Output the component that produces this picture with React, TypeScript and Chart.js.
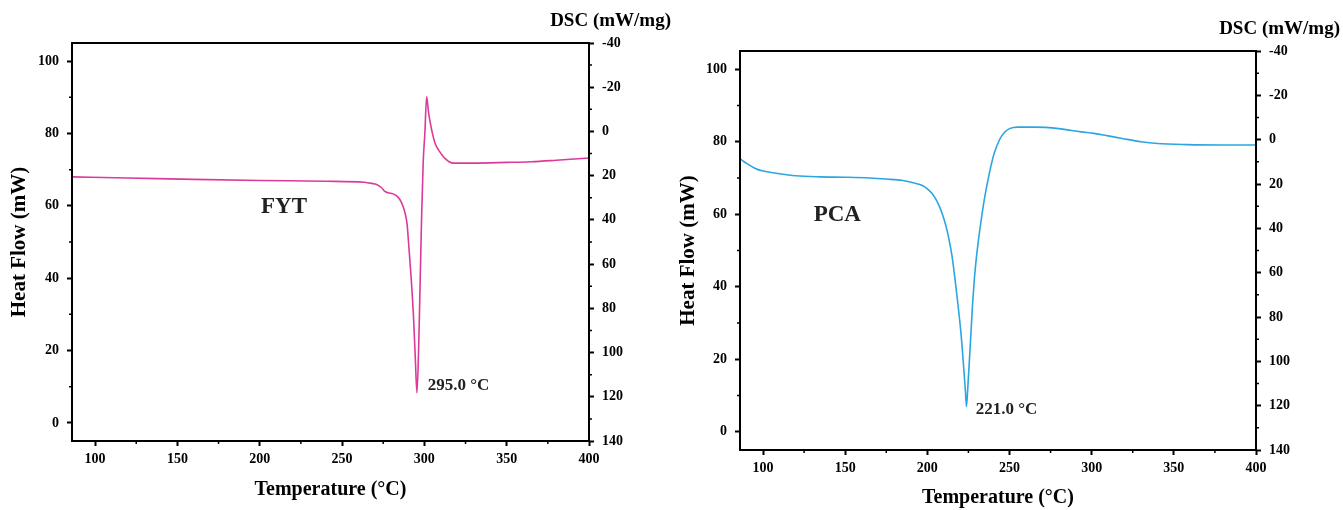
import React, { useEffect, useRef } from 'react';
import { Chart, registerables } from 'chart.js';

Chart.register(...registerables);

const FONT = "'Liberation Serif', 'Times New Roman', serif";

// ---- FYT sample: temperature (°C) and heat flow (mW) ----
const fytTemp = [86, 120, 160, 200, 240, 263.5, 268, 271, 274, 276, 278, 281, 284, 286, 288, 289.5, 290.7, 292, 293.4, 294.5, 295.5, 296.5, 297.5, 298.4, 299.3, 300.3, 301.4, 302.5, 303.5, 305, 306.5, 307.5, 309, 311, 313, 315, 318, 330, 350, 365, 380, 400];
const fytHeat = [68.0, 67.7, 67.3, 67.0, 66.8, 66.5, 66.2, 65.9, 65.0, 64.0, 63.6, 63.3, 62.4, 61.0, 58.5, 55.0, 48.0, 40.0, 29.4, 18.0, 8.3, 20.0, 40.0, 58.0, 72.0, 80.0, 90.1, 86.0, 83.2, 79.8, 77.3, 76.3, 75.2, 73.9, 72.9, 72.2, 71.8, 71.8, 72.0, 72.2, 72.6, 73.2];

// ---- PCA sample ----
const pcaTemp = [86, 90, 95, 100, 108, 120, 135, 150, 165, 175, 185, 192, 197, 200, 202.5, 205, 207, 209, 211, 213, 215, 218.3, 220.5, 222, 223.2, 223.8, 224.6, 225.5, 226.5, 227.5, 228.5, 229.5, 231, 232.5, 234.6, 237.5, 240.7, 244, 247, 250, 255, 265, 280, 293.6, 301.4, 310, 318.5, 330, 340, 358, 380, 400];
const pcaHeat = [75.3, 74.0, 72.7, 71.9, 71.3, 70.6, 70.3, 70.2, 70.0, 69.7, 69.3, 68.6, 67.9, 67.0, 65.9, 64.3, 62.5, 60.2, 57.3, 53.5, 48.5, 36.4, 27.0, 18.5, 11.0, 7.0, 12.0, 19.0, 27.0, 35.0, 41.5, 46.5, 52.5, 57.5, 63.9, 70.8, 76.8, 80.6, 82.6, 83.6, 84.0, 84.0, 83.6, 82.7, 82.3, 81.6, 80.9, 80.0, 79.5, 79.2, 79.1, 79.1];

// ---- axes ----
const xRange = [86, 400];
const heatRange = [-5, 105];
const dscRange = [-40, 140];
const xMajorTicks = [100, 150, 200, 250, 300, 350, 400];
const xMinorTicks = [125, 175, 225, 275, 325, 375];
const heatMajorTicks = [0, 20, 40, 60, 80, 100];
const heatMinorTicks = [10, 30, 50, 70, 90];
const dscMajorTicks = [-40, -20, 0, 20, 40, 60, 80, 100, 120, 140];
const dscMinorTicks = [-30, -10, 10, 30, 50, 70, 90, 110, 130];

const xTitle = 'Temperature (°C)';
const yTitle = 'Heat Flow (mW)';
const y2Title = 'DSC (mW/mg)';

const panels = [
  {
    key: 'fyt',
    temps: fytTemp,
    heats: fytHeat,
    color: '#DB3A9C',
    left: 0,
    width: 672,
    area: { left: 72, top: 43, right: 589, bottom: 441 },
    yTitlePad: 7,
    xTitlePad: 8,
    sample: { text: 'FYT', x: 214.8, y: 59.7 },
    peak: { text: '295.0 °C', x: 302, y: 10.2 },
    dscTitleRight: 671,
    dscTitleY: 21,
  },
  {
    key: 'pca',
    temps: pcaTemp,
    heats: pcaHeat,
    color: '#2BA6E0',
    left: 672,
    width: 671,
    area: { left: 68, top: 51, right: 584, bottom: 450 },
    yTitlePad: 3.5,
    xTitlePad: 0,
    sample: { text: 'PCA', x: 145.2, y: 59.8 },
    peak: { text: '221.0 °C', x: 229.5, y: 6.1 },
    dscTitleRight: 668,
    dscTitleY: 29,
  },
];

const H = 510;

function Panel({ cfg }: { cfg: any }) {
  const ref = useRef<HTMLCanvasElement | null>(null);
  useEffect(() => {
    if (!ref.current) return;
    const a = cfg.area;
    const W = cfg.width;
    const tickFont = { family: FONT, size: 14, weight: 'bold' as const };
    const titleFont = { family: FONT, size: 20, weight: 'bold' as const };
    const yTitleFont = { family: FONT, size: 21, weight: 'bold' as const };

    const decor = {
      id: 'decor',
      afterDraw(chart: any) {
        const ctx = chart.ctx;
        const ca = chart.chartArea;
        const { x, y, y2 } = chart.scales;
        ctx.save();
        ctx.strokeStyle = '#000';
        ctx.lineWidth = 2;
        ctx.strokeRect(ca.left, ca.top, ca.right - ca.left, ca.bottom - ca.top);
        ctx.lineWidth = 1.5;
        ctx.beginPath();
        xMinorTicks.forEach((v) => {
          const p = x.getPixelForValue(v);
          ctx.moveTo(p, ca.bottom);
          ctx.lineTo(p, ca.bottom + 3);
        });
        heatMinorTicks.forEach((v) => {
          const p = y.getPixelForValue(v);
          ctx.moveTo(ca.left, p);
          ctx.lineTo(ca.left - 3, p);
        });
        dscMinorTicks.forEach((v) => {
          const p = y2.getPixelForValue(v);
          ctx.moveTo(ca.right, p);
          ctx.lineTo(ca.right + 3, p);
        });
        ctx.stroke();

        ctx.fillStyle = '#222';
        ctx.textBaseline = 'middle';
        ctx.textAlign = 'center';
        ctx.font = `bold 23px ${FONT}`;
        ctx.fillText(cfg.sample.text, x.getPixelForValue(cfg.sample.x), y.getPixelForValue(cfg.sample.y));
        ctx.textAlign = 'left';
        ctx.font = `bold 17px ${FONT}`;
        ctx.fillText(cfg.peak.text, x.getPixelForValue(cfg.peak.x), y.getPixelForValue(cfg.peak.y));
        ctx.textAlign = 'right';
        ctx.fillStyle = '#000';
        ctx.font = `bold 19px ${FONT}`;
        ctx.fillText(y2Title, cfg.dscTitleRight, cfg.dscTitleY);
        ctx.restore();
      },
    };

    const chart = new Chart(ref.current, {
      type: 'line',
      data: {
        datasets: [
          {
            data: cfg.temps.map((t: number, i: number) => ({ x: t, y: cfg.heats[i] })),
            borderColor: cfg.color,
            borderWidth: 1.6,
            pointRadius: 0,
            cubicInterpolationMode: 'monotone',
            xAxisID: 'x',
            yAxisID: 'y',
          },
        ],
      },
      options: {
        responsive: false,
        animation: false,
        layout: { padding: { left: 0, top: a.top, right: 0, bottom: 0 } },
        plugins: { legend: { display: false }, tooltip: { enabled: false }, title: { display: false } },
        scales: {
          x: {
            type: 'linear',
            position: 'bottom',
            min: xRange[0],
            max: xRange[1],
            bounds: 'data',
            afterBuildTicks: (s: any) => {
              s.ticks = xMajorTicks.map((v) => ({ value: v }));
            },
            afterFit: (s: any) => {
              s.height = H - a.bottom;
            },
            grid: { drawOnChartArea: false, tickLength: 5, tickWidth: 2, tickColor: '#000' },
            border: { color: '#000', width: 2 },
            ticks: { color: '#000', font: tickFont, padding: 5, maxRotation: 0, autoSkip: false },
            title: { display: true, text: xTitle, color: '#000', font: titleFont, padding: { top: 0, bottom: cfg.xTitlePad } },
          },
          y: {
            type: 'linear',
            position: 'left',
            min: heatRange[0],
            max: heatRange[1],
            bounds: 'data',
            afterBuildTicks: (s: any) => {
              s.ticks = heatMajorTicks.map((v) => ({ value: v }));
            },
            afterFit: (s: any) => {
              s.width = a.left;
            },
            grid: { drawOnChartArea: false, tickLength: 5, tickWidth: 2, tickColor: '#000' },
            border: { color: '#000', width: 2 },
            ticks: { color: '#000', font: tickFont, padding: 8, autoSkip: false },
            title: { display: true, text: yTitle, color: '#000', font: yTitleFont, padding: { top: cfg.yTitlePad, bottom: 0 } },
          },
          y2: {
            type: 'linear',
            position: 'right',
            min: dscRange[0],
            max: dscRange[1],
            reverse: true,
            bounds: 'data',
            afterBuildTicks: (s: any) => {
              s.ticks = dscMajorTicks.map((v) => ({ value: v }));
            },
            afterFit: (s: any) => {
              s.width = W - a.right;
            },
            grid: { drawOnChartArea: false, tickLength: 5, tickWidth: 2, tickColor: '#000' },
            border: { color: '#000', width: 2 },
            ticks: { color: '#000', font: tickFont, padding: 8, autoSkip: false },
          },
        },
      } as any,
      plugins: [decor],
    });
    return () => chart.destroy();
  }, [cfg]);

  return (
    <div style={{ position: 'absolute', left: cfg.left, top: 0, width: cfg.width, height: H }}>
      <canvas ref={ref} width={cfg.width} height={H} style={{ display: 'block', width: cfg.width, height: H }} />
    </div>
  );
}

export default function App() {
  return (
    <div style={{ position: 'absolute', left: 0, top: 0, width: 1343, height: H, background: '#fff', overflow: 'hidden' }}>
      {panels.map((p) => (
        <Panel key={p.key} cfg={p} />
      ))}
    </div>
  );
}
